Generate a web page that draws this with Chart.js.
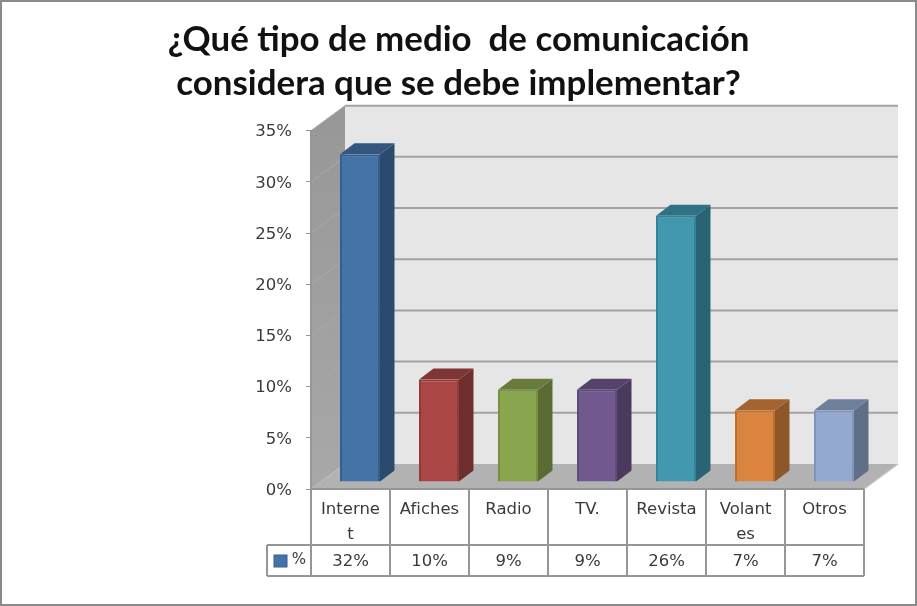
<!DOCTYPE html>
<html lang="es">
<head>
    <meta charset="UTF-8">
    <title>Medio de comunicación</title>
    <script src="https://cdn.jsdelivr.net/npm/chart.js"></script>
    <style>
        body { margin: 0; background: #fff; }
        canvas { display: block; }
    </style>
</head>
<body>
    <canvas id="chart" width="917" height="606"></canvas>
    <script>
        // Datos
        const categories = [['Interne', 't'], 'Afiches', 'Radio', 'TV.', 'Revista', ['Volant', 'es'], 'Otros'];
        const seriesName = '%';
        const values = [32, 10, 9, 9, 26, 7, 7];
        const titleLines = ['¿Qué tipo de medio  de comunicación', 'considera que se debe implementar?'];

        // Colores de cada barra: frente, borde, lado, tapa
        const frontColors = ['#4572a7', '#aa4643', '#89a54e', '#71588f', '#4198af', '#db843d', '#93a9cf'];
        const borderColors = ['#33608f', '#8f3a38', '#75903f', '#5f4a7a', '#348297', '#bb6f30', '#7f94b8'];
        const sideColors = ['#2c4a6e', '#6f2e2c', '#5a6c33', '#4a3a5e', '#2a6373', '#8f5628', '#606e88'];
        const topColors = ['#33557f', '#7f3533', '#677c3a', '#55436c', '#307285', '#a56330', '#6e7f9c'];

        const textColor = '#3a3a3a';
        const lineColor = '#969696';
        const textFont = '16.5px "DejaVu Sans"';

        // Profundidad de la caja 3D y de las barras
        const boxDx = 34, boxDy = -25;
        const barShiftX = 9.5, barShiftY = -7;
        const barDx = 14.5, barDy = -11;

        function poly(ctx, pts, fill, stroke) {
            ctx.beginPath();
            pts.forEach((p, i) => i ? ctx.lineTo(p[0], p[1]) : ctx.moveTo(p[0], p[1]));
            ctx.closePath();
            if (fill) { ctx.fillStyle = fill; ctx.fill(); }
            if (stroke) { ctx.strokeStyle = stroke; ctx.stroke(); }
        }

        const box3d = {
            id: 'box3d',
            beforeDraw(chart) {
                const ctx = chart.ctx, a = chart.chartArea, y = chart.scales.y;
                ctx.save();
                ctx.fillStyle = '#fff';
                ctx.fillRect(0, 0, chart.width, chart.height);

                // paredes y piso
                poly(ctx, [[a.left + boxDx, a.top + boxDy], [a.right + boxDx, a.top + boxDy],
                    [a.right + boxDx, a.bottom + boxDy], [a.left + boxDx, a.bottom + boxDy]], '#e6e6e6');
                const side = ctx.createLinearGradient(0, a.top + boxDy, 0, a.bottom);
                side.addColorStop(0, '#979797');
                side.addColorStop(1, '#a8a8a8');
                poly(ctx, [[a.left, a.top], [a.left + boxDx, a.top + boxDy],
                    [a.left + boxDx, a.bottom + boxDy], [a.left, a.bottom]], side);
                poly(ctx, [[a.left, a.bottom], [a.right, a.bottom],
                    [a.right + boxDx, a.bottom + boxDy], [a.left + boxDx, a.bottom + boxDy]], '#b2b2b2');

                // lineas de la grilla
                y.ticks.forEach((t) => {
                    const py = y.getPixelForValue(t.value);
                    if (t.value > 0) {
                        ctx.lineWidth = 2;
                        ctx.strokeStyle = '#a3a3a3';
                        ctx.beginPath();
                        ctx.moveTo(a.left + boxDx, py + boxDy);
                        ctx.lineTo(a.right + boxDx, py + boxDy);
                        ctx.stroke();
                        ctx.lineWidth = 1;
                        ctx.strokeStyle = '#a9a9a9';
                        ctx.beginPath();
                        ctx.moveTo(a.left, py);
                        ctx.lineTo(a.left + boxDx, py + boxDy);
                        ctx.stroke();
                    }
                });
                ctx.lineWidth = 1.5;
                ctx.strokeStyle = '#c4c4c4';
                ctx.beginPath();
                ctx.moveTo(a.right, a.bottom);
                ctx.lineTo(a.right + boxDx, a.bottom + boxDy);
                ctx.stroke();
                ctx.restore();
            },
            beforeDatasetsDraw(chart) {
                const ctx = chart.ctx;
                ctx.save();
                ctx.translate(barShiftX, barShiftY);
                chart.getDatasetMeta(0).data.forEach((bar, i) => {
                    const l = bar.x - bar.width / 2, r = bar.x + bar.width / 2;
                    poly(ctx, [[r, bar.y], [r + barDx, bar.y + barDy], [r + barDx, bar.base + barDy], [r, bar.base]], sideColors[i]);
                    poly(ctx, [[l, bar.y], [l + barDx, bar.y + barDy], [r + barDx, bar.y + barDy], [r, bar.y]], topColors[i]);
                });
            },
            afterDatasetsDraw(chart) {
                chart.ctx.restore();
            },
            afterDraw(chart) {
                const ctx = chart.ctx, a = chart.chartArea, x = chart.scales.x;
                const step = x.getPixelForValue(1) - x.getPixelForValue(0);
                const rowTop = a.bottom, rowMid = a.bottom + 56, rowEnd = a.bottom + 87, keyLeft = a.left - 44;
                ctx.save();
                ctx.lineWidth = 2;
                ctx.strokeStyle = lineColor;

                // tabla de datos
                ctx.beginPath();
                ctx.moveTo(a.left, rowTop);
                ctx.lineTo(a.right, rowTop);
                ctx.moveTo(keyLeft, rowMid);
                ctx.lineTo(a.right, rowMid);
                ctx.moveTo(keyLeft, rowEnd);
                ctx.lineTo(a.right, rowEnd);
                ctx.moveTo(keyLeft, rowMid);
                ctx.lineTo(keyLeft, rowEnd);
                categories.forEach((c, i) => {
                    const px = x.getPixelForValue(i) - step / 2;
                    ctx.moveTo(px, rowTop);
                    ctx.lineTo(px, rowEnd);
                });
                ctx.moveTo(a.right, rowTop);
                ctx.lineTo(a.right, rowEnd);
                ctx.stroke();

                ctx.font = textFont;
                ctx.fillStyle = textColor;
                ctx.textAlign = 'center';
                ctx.textBaseline = 'middle';
                values.forEach((v, i) => {
                    ctx.fillText(v + '%', x.getPixelForValue(i), (rowMid + rowEnd) / 2 + 1);
                });

                // clave de la serie
                ctx.lineWidth = 1;
                ctx.fillStyle = frontColors[0];
                ctx.strokeStyle = borderColors[0];
                ctx.fillRect(keyLeft + 7, rowMid + 10, 13, 12);
                ctx.strokeRect(keyLeft + 7, rowMid + 10, 13, 12);
                ctx.fillStyle = textColor;
                ctx.font = '15px "DejaVu Sans"';
                ctx.fillText(seriesName, keyLeft + 32, (rowMid + rowEnd) / 2);

                // marco
                ctx.lineWidth = 2;
                ctx.strokeStyle = '#8a8a8a';
                ctx.strokeRect(1, 1, chart.width - 2, chart.height - 2);
                ctx.restore();
            }
        };

        new Chart(document.getElementById('chart'), {
            type: 'bar',
            data: {
                labels: categories,
                datasets: [{
                    label: seriesName,
                    data: values,
                    backgroundColor: frontColors,
                    borderColor: borderColors,
                    borderWidth: 2,
                    barPercentage: 0.506,
                    categoryPercentage: 1
                }]
            },
            plugins: [box3d],
            options: {
                responsive: false,
                animation: false,
                layout: { padding: { left: 53, right: 53, top: 0, bottom: 61 } },
                plugins: {
                    legend: { display: false },
                    tooltip: { enabled: false },
                    title: {
                        display: true,
                        text: titleLines,
                        color: '#111',
                        font: { family: 'Lato', size: 34.9, weight: 'bold', lineHeight: 1.26 },
                        padding: { top: 18, bottom: 24.7 }
                    }
                },
                scales: {
                    x: {
                        afterFit(s) { s.height = 56; },
                        grid: { display: false },
                        border: { display: false },
                        ticks: {
                            color: textColor,
                            font: { family: 'DejaVu Sans', size: 16.5, lineHeight: 1.52 },
                            padding: 0,
                            maxRotation: 0,
                            minRotation: 0,
                            autoSkip: false
                        }
                    },
                    y: {
                        min: 0,
                        max: 35,
                        afterFit(s) { s.width = 258; },
                        grid: { drawOnChartArea: false, drawTicks: true, tickLength: 5, color: lineColor },
                        border: { color: lineColor, width: 2 },
                        ticks: {
                            stepSize: 5,
                            color: textColor,
                            font: { family: 'DejaVu Sans', size: 16.5 },
                            padding: 14,
                            labelOffset: 1.5,
                            callback: (v) => v + '%'
                        }
                    }
                }
            }
        });
    </script>
</body>
</html>
